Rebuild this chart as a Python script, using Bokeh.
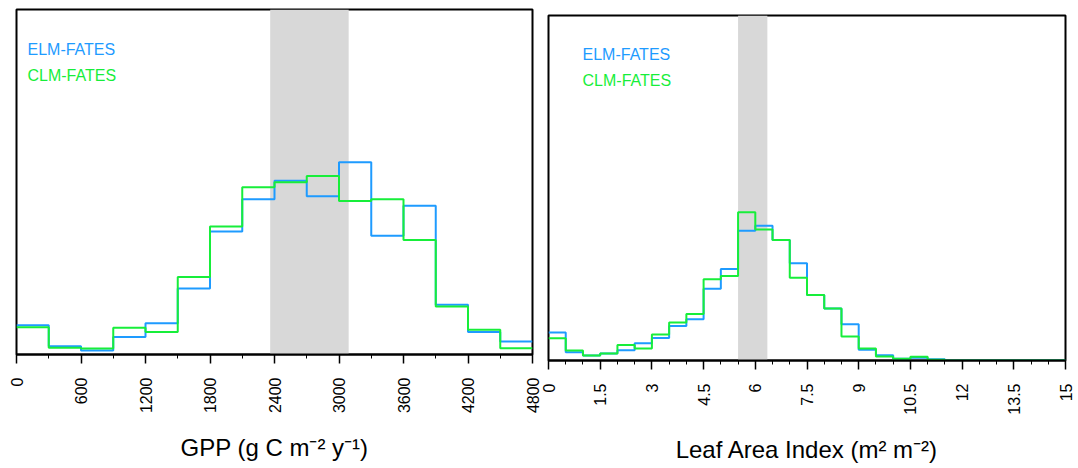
import math
from bokeh.plotting import figure
from bokeh.models import FixedTicker, BoxAnnotation, Label, Range1d
from bokeh.layouts import row
from bokeh.embed import file_html
from bokeh.resources import INLINE

# ---------------- data ----------------
series_names = ["ELM-FATES", "CLM-FATES"]
series_colors = ["#1E9BFF", "#17EE3A"]

# GPP histogram (% of samples per 300 g C m-2 y-1 bin)
gpp_edges = [0, 300, 600, 900, 1200, 1500, 1800, 2100, 2400, 2700, 3000,
             3300, 3600, 3900, 4200, 4500, 4800]
gpp_elm = [2.23, 0.63, 0.30, 1.34, 2.38, 5.04, 9.38, 11.83, 13.25, 12.06,
           14.65, 9.05, 11.33, 3.80, 1.72, 0.99]
gpp_clm = [2.08, 0.51, 0.46, 2.03, 1.72, 5.90, 9.76, 12.75, 13.13, 13.61,
           11.71, 11.83, 8.72, 3.65, 1.88, 0.48]
gpp_ticks = [0, 600, 1200, 1800, 2400, 3000, 3600, 4200, 4800]
gpp_tick_labels = ["0", "600", "1200", "1800", "2400", "3000", "3600", "4200", "4800"]
gpp_minor = [300, 900, 1500, 2100, 2700, 3300, 3900, 4500]
gpp_obs = [2360, 3090]

# LAI histogram (% of samples per 0.5 m2 m-2 bin)
lai_edges = [0, 0.5, 1, 1.5, 2, 2.5, 3, 3.5, 4, 4.5, 5, 5.5, 6, 6.5, 7, 7.5,
             8, 8.5, 9, 9.5, 10, 10.5, 11, 11.5, 12, 12.5, 13, 13.5, 14, 14.5, 15]
lai_elm = [2.81, 0.84, 0.50, 0.70, 1.04, 1.74, 2.27, 3.48, 4.15, 7.22,
           9.20, 13.04, 13.55, 12.11, 9.77, 6.59, 5.22, 3.65, 1.07, 0.54,
           0.17, 0.27, 0.13, 0, 0, 0, 0, 0, 0, 0]
lai_clm = [2.24, 1.00, 0.50, 0.70, 1.57, 1.20, 2.61, 3.81, 4.68, 8.16,
           8.49, 14.92, 13.18, 12.11, 8.33, 6.59, 5.22, 2.41, 1.20, 0.40,
           0.17, 0.37, 0.07, 0, 0, 0, 0, 0, 0, 0]
lai_ticks = [0, 1.5, 3, 4.5, 6, 7.5, 9, 10.5, 12, 13.5, 15]
lai_tick_labels = ["0", "1.5", "3", "4.5", "6", "7.5", "9", "10.5", "12", "13.5", "15"]
lai_minor = [0.5, 1, 2, 2.5, 3.5, 4, 5, 5.5, 6.5, 7, 8, 8.5, 9.5, 10, 11, 11.5,
             12.5, 13, 14, 14.5]
lai_obs = [5.5, 6.35]

FONT = "Liberation Sans"


def make_panel(edges, series, ticks, tick_labels, minor, obs, xlabel, ymax,
               frame_w, border_left, border_right, legend_pos):
    p = figure(frame_width=frame_w, frame_height=345, output_backend="svg",
               toolbar_location=None, title=None,
               x_range=Range1d(edges[0], edges[-1]), y_range=Range1d(0, ymax),
               min_border_top=9, min_border_left=border_left,
               min_border_right=border_right, min_border_bottom=0)
    p.xgrid.visible = False
    p.ygrid.visible = False
    p.yaxis.visible = False
    p.outline_line_color = "black"
    p.outline_line_width = 2
    p.background_fill_color = "white"

    band = BoxAnnotation(left=obs[0], right=obs[1], fill_color="#d8d8d8",
                         fill_alpha=1.0, line_color=None, level="underlay")
    p.add_layout(band)

    for vals, name, color in zip(series, series_names, series_colors):
        p.step(x=edges, y=list(vals) + [vals[-1]], mode="after",
               line_color=color, line_width=2)

    ax = p.xaxis[0]
    ax.ticker = FixedTicker(ticks=ticks, minor_ticks=minor)
    ax.major_label_overrides = {float(t): s for t, s in zip(ticks, tick_labels)}
    ax.major_tick_in = 0
    ax.major_tick_out = 9
    ax.minor_tick_in = 0
    ax.minor_tick_out = 4
    ax.major_tick_line_width = 1.5
    ax.minor_tick_line_width = 1
    ax.axis_line_width = 2
    ax.major_label_orientation = math.pi / 2
    ax.major_label_standoff = 14
    ax.major_label_text_font = FONT
    ax.major_label_text_font_size = "16px"
    ax.major_label_text_color = "black"
    ax.axis_label = xlabel
    ax.axis_label_text_font = FONT
    ax.axis_label_text_font_size = "24px"
    ax.axis_label_text_font_style = "normal"
    ax.axis_label_text_color = "black"
    ax.axis_label_standoff = 18

    (lx, ly1, ly2) = legend_pos
    xr = edges[-1] - edges[0]
    for name, color, fy in zip(series_names, series_colors, (ly1, ly2)):
        p.add_layout(Label(x=edges[0] + lx * xr, y=fy * ymax, text=name,
                           text_color=color, text_font=FONT,
                           text_font_size="16px", text_baseline="alphabetic"))
    return p


p1 = make_panel(gpp_edges, [gpp_elm, gpp_clm], gpp_ticks, gpp_tick_labels,
                gpp_minor, gpp_obs, "GPP (g C m\u207b\u00b2 y\u207b\u00b9)", 26.3,
                516, 16, 20, (0.0213, 0.883, 0.809))
p1.border_fill_color = "white"

p2 = make_panel(lai_edges, [lai_elm, lai_clm], lai_ticks, lai_tick_labels,
                lai_minor, lai_obs, "Leaf Area Index (m\u00b2 m\u207b\u00b2)", 34.7,
                517, 8, 12, (0.0658, 0.887, 0.812))
p2.border_fill_color = None
p2.margin = (6, 0, 0, -12)

layout = row(p1, p2)
open("out.html", "w").write(file_html(layout, INLINE))
